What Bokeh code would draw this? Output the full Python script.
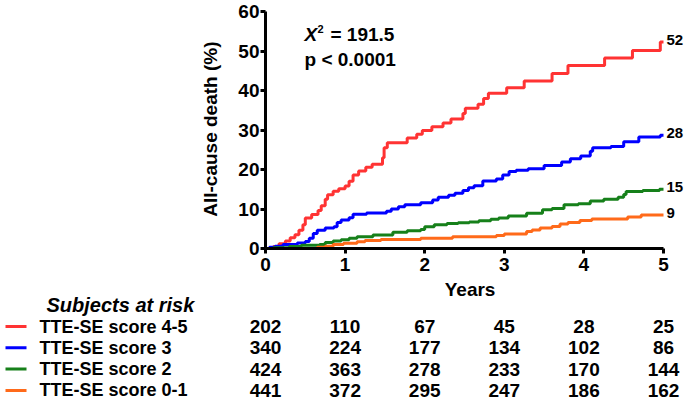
import math
from bokeh.plotting import figure
from bokeh.models import Range1d, FixedTicker, ColumnDataSource, Label
from bokeh.embed import file_html
from bokeh.resources import INLINE
from bokeh.core.properties import value

FONT = "Liberation Sans"

# ---- data (years, cumulative % all-cause death) ----
red_t = [0, 0.10, 0.17, 0.25, 0.31, 0.37, 0.42, 0.47, 0.50, 0.58, 0.66, 0.70, 0.75, 0.78,
         0.85, 0.92, 1.00, 1.05, 1.10, 1.17, 1.26, 1.34, 1.47, 1.49, 1.53, 1.78, 1.90, 1.97,
         2.09, 2.23, 2.33, 2.48, 2.51, 2.67, 2.74, 2.80, 3.03, 3.25, 3.60, 3.80, 4.26, 4.61,
         4.96, 5.0]
red_y = [0, 0.5, 1.2, 1.9, 2.7, 3.5, 4.6, 6.0, 7.7, 8.6, 9.6, 10.8, 12.5, 13.6,
         14.5, 15.1, 15.8, 17.0, 18.6, 19.6, 20.6, 21.3, 23.0, 25.5, 26.8, 28.0, 28.9, 29.9,
         30.8, 31.8, 32.8, 34.2, 35.5, 36.5, 38.0, 39.3, 40.7, 42.4, 44.3, 46.3, 48.2, 50.1,
         52.3, 52.3]

blue_t = [0, 0.05, 0.12, 0.22, 0.40, 0.50, 0.55, 0.60, 0.65, 0.75, 0.86, 0.90, 0.95, 1.05,
          1.10, 1.27, 1.52, 1.58, 1.67, 1.75, 1.95, 2.10, 2.17, 2.30, 2.38, 2.48, 2.55, 2.62,
          2.73, 2.90, 2.98, 3.06, 3.15, 3.30, 3.50, 3.72, 3.83, 3.96, 4.08, 4.11, 4.34, 4.50,
          4.69, 4.96, 5.0]
blue_y = [0, 0.3, 0.6, 1.0, 1.4, 1.8, 2.6, 3.8, 4.6, 5.2, 5.5, 6.6, 7.2, 7.8,
          8.7, 9.0, 9.4, 10.0, 10.6, 11.1, 11.6, 12.3, 13.0, 13.5, 14.0, 14.7, 15.4, 15.9,
          17.1, 17.6, 18.6, 19.5, 19.8, 20.2, 21.0, 21.9, 22.7, 23.4, 24.6, 25.5, 25.8, 27.0,
          28.2, 28.7, 28.7]

green_t = [0, 0.10, 0.30, 0.45, 0.68, 0.75, 0.85, 0.95, 1.05, 1.15, 1.35, 1.60, 1.78, 1.95,
           2.00, 2.12, 2.28, 2.42, 2.56, 2.68, 2.83, 2.93, 3.05, 3.28, 3.48, 3.60, 3.75, 3.93,
           4.08, 4.25, 4.43, 4.50, 4.53, 4.74, 4.95, 5.0]
green_y = [0, 0.2, 0.5, 0.8, 1.0, 1.5, 1.9, 2.2, 2.6, 3.0, 3.4, 4.1, 4.5, 4.8,
           5.5, 6.0, 6.3, 6.5, 6.7, 7.0, 7.4, 7.7, 8.2, 8.9, 9.8, 10.1, 11.1, 11.3,
           12.0, 12.5, 13.0, 13.7, 14.4, 14.7, 15.0, 15.0]

orange_t = [0, 0.65, 0.75, 0.85, 0.98, 1.15, 1.25, 1.45, 1.95, 2.35, 2.90, 3.00, 3.28, 3.35,
            3.45, 3.60, 3.70, 3.80, 3.95, 4.10, 4.55, 4.72, 5.0]
orange_y = [0, 0.3, 0.6, 1.0, 1.3, 1.7, 2.0, 2.3, 2.6, 3.0, 3.3, 3.7, 4.3, 4.7,
            5.2, 5.6, 6.2, 6.6, 7.1, 7.5, 8.0, 8.5, 8.5]

series_t = [red_t, blue_t, green_t, orange_t]
series_y = [red_y, blue_y, green_y, orange_y]
colors = ["#ff3333", "#0000ff", "#16801a", "#ff6a1a"]
end_labels = ["52", "28", "15", "9"]

group_names = ["TTE-SE score 4-5", "TTE-SE score 3", "TTE-SE score 2", "TTE-SE score 0-1"]
risk_years = [0, 1, 2, 3, 4, 5]
risk_counts = [
    [202, 110, 67, 45, 28, 25],
    [340, 224, 177, 134, 102, 86],
    [424, 363, 278, 233, 170, 144],
    [441, 372, 295, 247, 186, 162],
]
y_ticks = [0, 10, 20, 30, 40, 50, 60]
x_ticks = [0, 1, 2, 3, 4, 5]
x_label = "Years"
y_label = "All-cause death  (%)"
table_title = "Subjects at risk"
stat_line1 = "= 191.5"
stat_line2 = "p < 0.0001"

# ---- layout (pixel placement of the frame inside the 684x402 canvas) ----
W, H = 684, 402
LEFT = 265            # canvas x of year 0
PPX = 79.6            # pixels per year
TOP60 = 11            # canvas y of 60 %
BOT0 = 248            # canvas y of 0 %
PPY = (BOT0 - TOP60) / 60.0


def dx(cx):  # canvas pixel x -> data x
    return (cx - LEFT) / PPX


def dy(cy):  # canvas pixel y -> data y
    return (BOT0 - cy) / PPY


p = figure(width=W, height=H, output_backend="svg", toolbar_location=None,
           x_range=Range1d(-LEFT / PPX, (W - LEFT) / PPX),
           y_range=Range1d(-(H - BOT0) / PPY, 60 + TOP60 / PPY),
           min_border_left=0, min_border_right=0, min_border_top=0, min_border_bottom=0,
           background_fill_color="white", border_fill_color="white")
p.outline_line_color = None
p.grid.visible = False

for t, yv, c in zip(series_t, series_y, colors):
    p.step(t, yv, mode="after", line_color=c, line_width=3)

src_end = ColumnDataSource(dict(x=[t[-1] for t in series_t], y=[yv[-1] for yv in series_y],
                                text=end_labels))
p.text(x="x", y="y", text="text", source=src_end, x_offset=3, y_offset=-2,
       text_font=value(FONT), text_font_style="bold", text_font_size="15px",
       text_baseline="middle", text_align="left", text_color="black")

xa = p.xaxis[0]
ya = p.yaxis[0]
xa.fixed_location = 0
ya.fixed_location = 0
xa.ticker = FixedTicker(ticks=x_ticks)
ya.ticker = FixedTicker(ticks=y_ticks)
xa.bounds = (0, 5)
ya.bounds = (0, 60)
for ax in (xa, ya):
    ax.axis_line_width = 3
    ax.axis_line_color = "black"
    ax.major_tick_line_width = 3
    ax.major_tick_line_color = "black"
    ax.major_tick_out = 5
    ax.major_tick_in = 0
    ax.minor_tick_out = 0
    ax.minor_tick_in = 0
    ax.major_label_text_font = FONT
    ax.major_label_text_font_style = "bold"
    ax.major_label_text_font_size = "19px"
    ax.major_label_text_color = "black"
xa.major_label_standoff = 4
ya.major_label_standoff = 1

# axis titles
p.text(x=[2.57], y=[dy(289)], text=[x_label], text_font=value(FONT),
       text_font_style="bold", text_font_size="19px", text_baseline="middle",
       text_align="center", text_color="black")
p.text(x=[dx(LEFT - 55)], y=[dy(126)], text=[y_label], angle=math.pi / 2,
       text_font=value(FONT), text_font_style="bold", text_font_size="19px",
       text_baseline="middle", text_align="center", text_color="black")

# statistics text
sx, sy1, sy2 = dx(304), dy(34), dy(59)
p.add_layout(Label(x=sx, y=sy1, text="X", text_font=FONT, text_font_style="bold italic",
                   text_font_size="19px", text_baseline="middle", text_align="left",
                   text_color="black"))
p.add_layout(Label(x=sx, y=sy1, x_offset=13, y_offset=6, text="2", text_font=FONT,
                   text_font_style="bold", text_font_size="11px", text_baseline="middle",
                   text_align="left", text_color="black"))
p.add_layout(Label(x=sx, y=sy1, x_offset=26, text=stat_line1, text_font=FONT,
                   text_font_style="bold", text_font_size="19px", text_baseline="middle",
                   text_align="left", text_color="black"))
p.add_layout(Label(x=sx, y=sy2, text=stat_line2, text_font=FONT,
                   text_font_style="bold", text_font_size="19px", text_baseline="middle",
                   text_align="left", text_color="black"))

# ---- risk table ----
p.text(x=[dx(46)], y=[dy(304)], text=[table_title], text_font=value(FONT),
       text_font_style="bold italic", text_font_size="20px", text_baseline="middle",
       text_align="left", text_color="black")

row_y = [dy(326 + 21.3 * i) for i in range(len(group_names))]
p.segment(x0=[dx(5)] * 4, x1=[dx(26)] * 4, y0=row_y, y1=row_y,
          line_color=colors, line_width=3)
p.text(x=[dx(39)] * 4, y=row_y, text=group_names,
       text_font=value(FONT), text_font_style="bold", text_font_size="18px",
       text_baseline="middle", text_align="left", text_color="black")
nx, ny, nt = [], [], []
for r, counts in enumerate(risk_counts):
    for yr, c in zip(risk_years, counts):
        nx.append(yr)
        ny.append(row_y[r])
        nt.append(str(c))
p.text(x=nx, y=ny, text=nt, text_font=value(FONT), text_font_style="bold",
       text_font_size="19px", text_baseline="middle", text_align="center", text_color="black")

open("out.html", "w").write(file_html(p, INLINE))
